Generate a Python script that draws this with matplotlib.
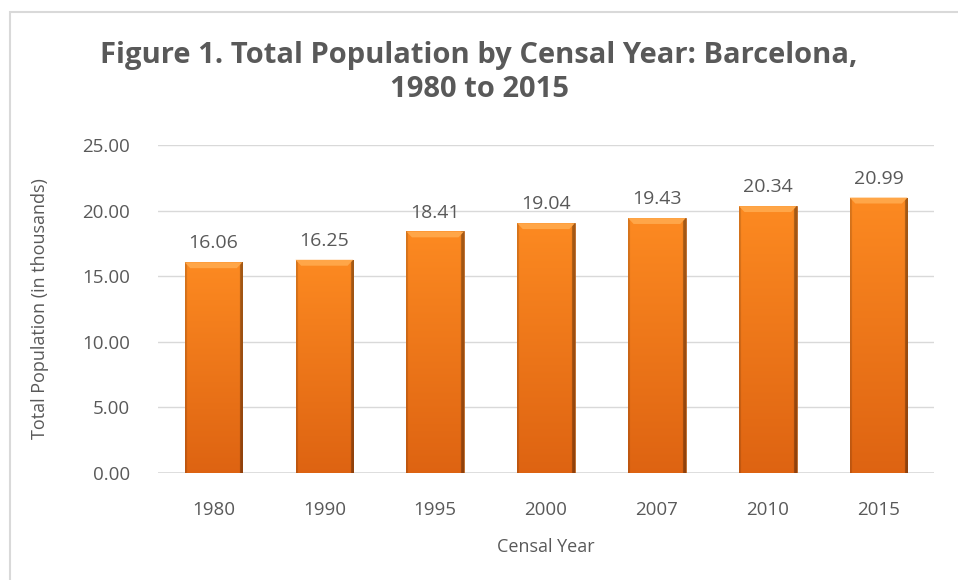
import matplotlib.pyplot as plt
import numpy as np
from matplotlib.patches import Rectangle, Polygon

# census years and population (thousands)
years = ['1980', '1990', '1995', '2000', '2007', '2010', '2015']
population = [16.06, 16.25, 18.41, 19.04, 19.43, 20.34, 20.99]

grey = '#595959'
plt.rcParams['font.family'] = ['Open Sans', 'DejaVu Sans']

fig = plt.figure(figsize=(9.58, 5.8), dpi=100)
ax = fig.add_axes([0.165, 0.1845, 0.81, 0.5655])

# outer chart frame
fig.patches.append(Rectangle((10 / 958, -0.1), 1.1, 1 - 12 / 580 + 0.1,
                             transform=fig.transFigure, fill=False,
                             ec='#d9d9d9', lw=1.5))

x = np.arange(len(years))
width = 0.52
bars = ax.bar(x, population, width=width, color='#f57d1a', zorder=2)

# bar shading: bright at the top, darker at the bottom, dark side edges
top = np.array([0.99, 0.54, 0.13])
bottom = np.array([0.87, 0.39, 0.07])
t = np.linspace(0, 1, 100)[:, None, None]
vert = top * (1 - t) + bottom * t
u = np.linspace(0, 1, 120)
side = np.ones_like(u)
side[u > 0.95] = 0.65
side[u < 0.03] = 0.85
img = vert * side[None, :, None]

for b in bars:
    x0, w, h = b.get_x(), b.get_width(), b.get_height()
    im = ax.imshow(img, extent=(x0, x0 + w, 0, h), aspect='auto',
                   origin='upper', zorder=3, interpolation='bilinear')
    im.set_clip_path(b)
    b.set_edgecolor('#a8520f')
    b.set_linewidth(0.5)
    # light bevel at the top
    d, bh = 0.05, 0.45
    ax.add_patch(Polygon([(x0, h), (x0 + w, h), (x0 + w - d, h - bh), (x0 + d, h - bh)],
                         closed=True, fc='#ffa648', ec='none', zorder=4))
    ax.text(x0 + w / 2, h + 0.75, f'{h:.2f}', ha='center', va='bottom',
            fontsize=14, color=grey)

ax.set_xlim(-0.5, len(years) - 0.5)
ax.set_ylim(0, 25)
ax.set_yticks(np.arange(0, 26, 5))
ax.set_yticklabels([f'{v:.2f}' for v in np.arange(0, 26, 5)])
ax.set_xticks(x)
ax.set_xticklabels(years)
ax.tick_params(axis='y', length=0, labelsize=13.5, colors=grey, pad=20)
ax.tick_params(axis='x', length=0, labelsize=13.5, colors=grey, pad=20)
ax.grid(axis='y', color='#d9d9d9', lw=1, zorder=0)
ax.set_axisbelow(True)
for s in ax.spines.values():
    s.set_visible(False)
ax.axhline(0, color='#d9d9d9', lw=1.2, zorder=1)

ax.set_xlabel('Censal Year', fontsize=13, color=grey, labelpad=14)
ax.set_ylabel('Total Population (in thousands)', fontsize=13, color=grey, labelpad=24)

fig.text(0.5, 0.875, 'Figure 1. Total Population by Censal Year: Barcelona,\n1980 to 2015',
         ha='center', va='center', fontsize=21, fontweight='bold', color=grey,
         linespacing=1.25)

fig.savefig('out.png', dpi=100)
